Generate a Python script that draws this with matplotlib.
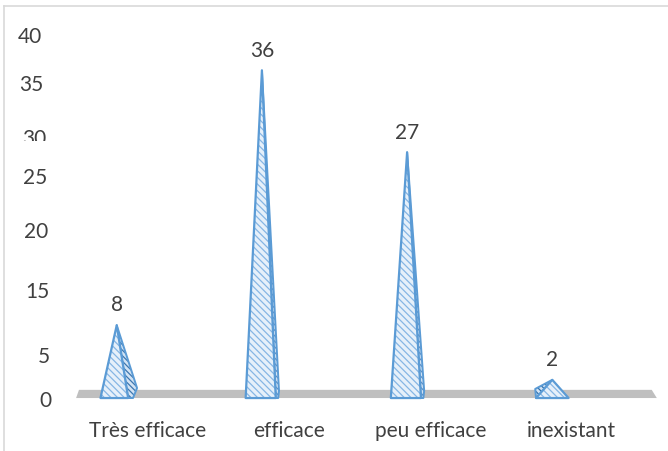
import matplotlib
matplotlib.use('Agg')
import matplotlib.pyplot as plt
from matplotlib.patches import Polygon, Rectangle

categories = ['Très efficace', 'efficace', 'peu efficace', 'inexistant']
values = [8, 36, 27, 2]
tick_labels = ['40', '35', '30', '25', '20', '15', '5', '0']

plt.rcParams['font.family'] = ['Lato', 'DejaVu Sans']
plt.rcParams['hatch.linewidth'] = 0.9
text_col = '#404040'
edge_col = '#5b9bd5'
face_col = '#e6f0fa'

fig = plt.figure(figsize=(6.68, 4.52), dpi=100)
ax = fig.add_axes([0, 0, 1, 1])
ax.set_xlim(-0.804, 3.797)
ax.set_ylim(-5.82, 43.85)
ax.axis('off')

# outer frame (top and left edges only)
ax.plot([4 / 668, 1], [1 - 7 / 452] * 2, color='#d9d9d9', lw=1.2, transform=ax.transAxes)
ax.plot([4 / 668] * 2, [0, 1 - 7 / 452], color='#d9d9d9', lw=1.2, transform=ax.transAxes)

# floor
floor = Polygon([(-0.28, 0), (3.72, 0), (3.685, 0.9), (-0.26, 0.9)],
                closed=True, facecolor='#bfbfbf', edgecolor='none', zorder=1)
ax.add_patch(floor)

w = 0.112
for i, v in enumerate(values):
    apex = (i, v)
    if v < 5:
        front = [apex, (i - w, 0), (i + w, 0)]
        side = [apex, (i - w * 1.05, 1.0), (i - w, 0)]
        side_col = '#2f6ea8'
    elif v < 15:
        front = [apex, (i - w, 0), (i + w * 0.7, 0)]
        side = [apex, (i + w * 0.7, 0), (i + w, 0), (i + w * 1.25, 1.1)]
        side_col = '#3d77b0'
    else:
        front = [apex, (i - w, 0), (i + w * 0.85, 0)]
        side = [apex, (i + w * 0.85, 0), (i + w, 0), (i + w * 1.05, 0.8)]
        side_col = '#5b8fc6'
    ax.add_patch(Polygon(side, closed=True, facecolor='#d2e3f4', edgecolor=side_col,
                         hatch='\\\\\\\\\\\\', lw=0, zorder=2))
    ax.add_patch(Polygon(side, closed=True, facecolor='none', edgecolor=edge_col,
                         lw=1.4, zorder=3, joinstyle='round'))
    ax.add_patch(Polygon(front, closed=True, facecolor=face_col, edgecolor='#86b6e4',
                         hatch='\\\\\\\\\\', lw=0, zorder=4))
    ax.add_patch(Polygon(front, closed=True, facecolor='none', edgecolor=edge_col,
                         lw=1.6, zorder=5, joinstyle='round'))
    ax.annotate(str(v), (i, v), xytext=(0, 15), textcoords='offset points',
                ha='center', va='center', fontsize=15, color=text_col)
    ax.text(i + 0.21 - 0.025 * i, -3.55, categories[i], ha='center', va='center',
            fontsize=15, color=text_col)

# y labels sit at uneven heights
tick_y = [39.8, 34.5, 28.6, 24.3, 18.4, 11.8, 4.6, -0.2]
tick_x = [42, 43, 46, 47, 48, 50, 50, 52]
ytr = ax.get_yaxis_transform()
for lab, yy, xx in zip(tick_labels, tick_y, tick_x):
    ax.text(xx / 668, yy, lab, ha='right', va='center', fontsize=15,
            color=text_col, transform=ytr, zorder=6)
# lower part of the "30" label is masked
ax.add_patch(Rectangle((10 / 668, 1 - 152 / 452), 45 / 668, 10 / 452, transform=ax.transAxes,
                       facecolor='white', edgecolor='none', zorder=7))

fig.savefig('out.png', dpi=100)
